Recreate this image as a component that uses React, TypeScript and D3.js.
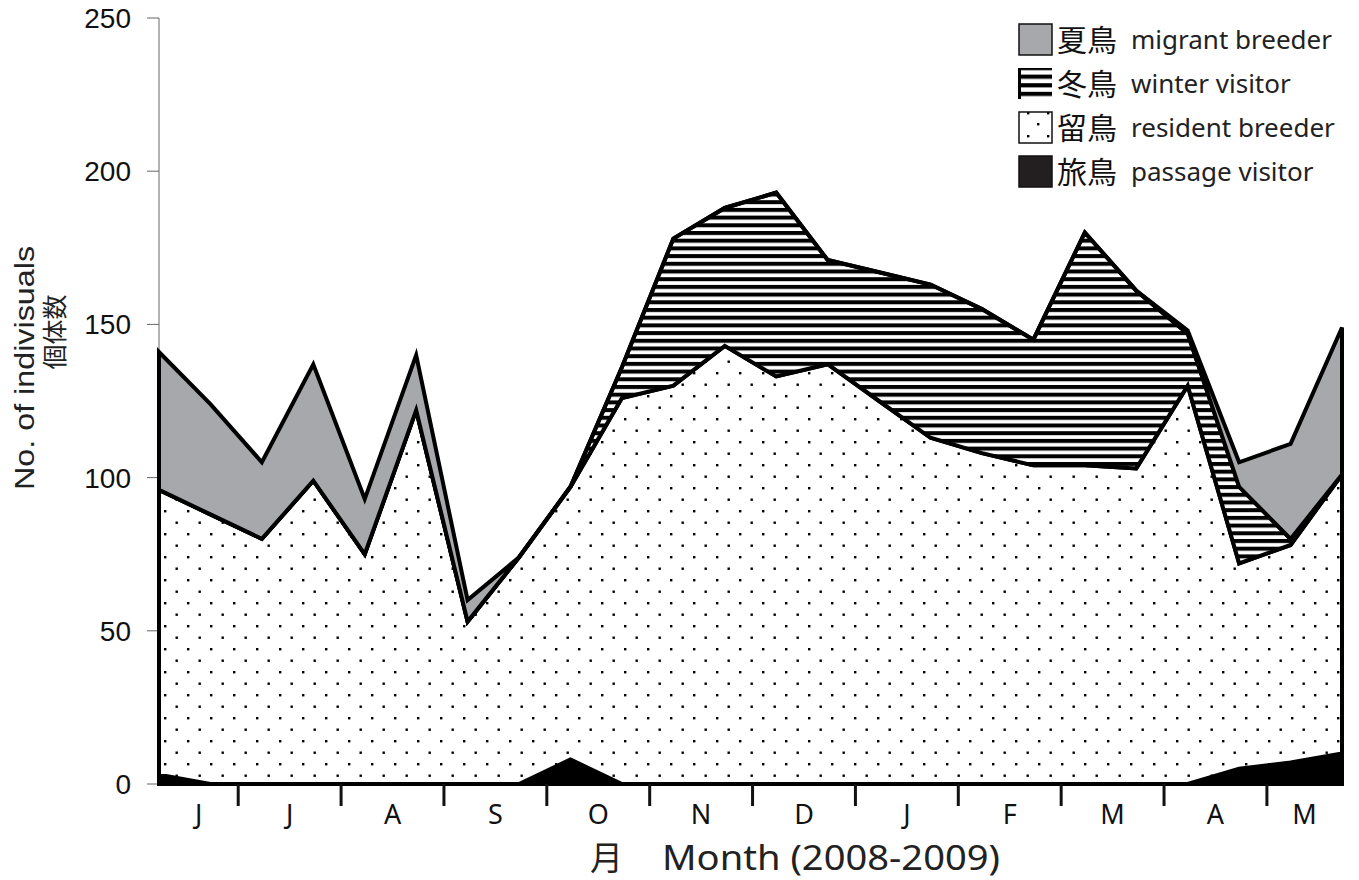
import React from "react";
import * as d3 from "d3";

// ---- data (survey visits, twice a month, Jun 2008 – May 2009) ----
const surveyIndex = [0, 1, 2, 3, 4, 5, 6, 7, 8, 9, 10, 11, 12, 13, 14, 15, 16, 17, 18, 19, 20, 21, 22, 23];
const passage = [3, 0, 0, 0, 0, 0, 0, 0, 8, 0, 0, 0, 0, 0, 0, 0, 0, 0, 0, 0, 0, 5, 7, 10];
const resident = [93, 88, 80, 99, 75, 122, 53, 74, 89, 126, 130, 143, 133, 137, 125, 113, 108, 104, 104, 103, 130, 67, 71, 91];
const winter = [0, 0, 0, 0, 0, 0, 0, 0, 0, 10, 48, 45, 60, 34, 42, 50, 47, 41, 76, 58, 17, 25, 2, 0];
const migrant = [45, 36, 25, 38, 18, 18, 7, 0, 0, 0, 0, 0, 0, 0, 0, 0, 0, 0, 0, 0, 1, 8, 31, 48];

const monthLabels = ["J", "J", "A", "S", "O", "N", "D", "J", "F", "M", "A", "M"];
// month boundaries expressed in survey-index units
const monthBoundaries = [1.54, 3.54, 5.54, 7.54, 9.54, 11.54, 13.54, 15.54, 17.54, 19.54, 21.54];
const yTicks = [0, 50, 100, 150, 200, 250];

const legendItems = [
  { jp: "夏鳥", en: "migrant breeder", fill: "#a7a8ab" },
  { jp: "冬鳥", en: "winter visitor", fill: "url(#stripesLegend)" },
  { jp: "留鳥", en: "resident breeder", fill: "url(#dotsLegend)" },
  { jp: "旅鳥", en: "passage visitor", fill: "#231f20" },
];

const keys = ["passage", "resident", "winter", "migrant"];
const fills: Record<string, string> = {
  passage: "#000000",
  resident: "url(#dots)",
  winter: "url(#stripes)",
  migrant: "#a7a8ab",
};

const W = 1359;
const H = 880;
const left = 159;
const right = 1342;
const top = 18;
const bottom = 784;

export default function App() {
  const x = d3.scaleLinear().domain([0, 23]).range([left, right]);
  const y = d3.scaleLinear().domain([0, 250]).range([bottom, top]);

  const rows = surveyIndex.map((i) => ({
    i,
    passage: passage[i],
    resident: resident[i],
    winter: winter[i],
    migrant: migrant[i],
  }));
  const series = d3.stack<any>().keys(keys)(rows);
  const area = d3
    .area<any>()
    .x((d) => x(d.data.i))
    .y0((d) => y(d[0]))
    .y1((d) => y(d[1]));

  const bounds = [0, ...monthBoundaries, 23];
  const labelPos = monthLabels.map((_, k) => (bounds[k] + bounds[k + 1]) / 2);

  const sans = "'Noto Sans', 'Noto Sans CJK JP', sans-serif";
  const cjk = "'Noto Sans CJK JP', 'Noto Sans', sans-serif";
  const arial = "'Liberation Sans', Arial, sans-serif";

  return (
    <svg width={W} height={H} style={{ position: "absolute", left: 0, top: 0, background: "#fff" }}>
      <defs>
        <pattern id="dots" width={23} height={23} patternUnits="userSpaceOnUse" x={3} y={4}>
          <rect width={23} height={23} fill="#fff" />
          <rect x={0} y={0} width={2.4} height={2.4} fill="#000" />
          <rect x={11.5} y={11.5} width={2.4} height={2.4} fill="#000" />
        </pattern>
        <pattern id="stripes" width={8} height={7.7} patternUnits="userSpaceOnUse">
          <rect width={8} height={7.7} fill="#fff" />
          <rect x={0} y={0} width={8} height={4} fill="#000" />
        </pattern>
        <pattern id="stripesLegend" width={10} height={8.6} patternUnits="userSpaceOnUse" y={66}>
          <rect width={10} height={8.6} fill="#fff" />
          <rect x={0} y={0} width={10} height={4.2} fill="#000" />
        </pattern>
        <pattern id="dotsLegend" width={34} height={34} patternUnits="userSpaceOnUse" x={1019} y={108}>
          <rect width={34} height={34} fill="#fff" />
          <rect x={8} y={4} width={2.4} height={2.4} fill="#000" />
          <rect x={18} y={15} width={2.4} height={2.4} fill="#000" />
          <rect x={8} y={27} width={2.4} height={2.4} fill="#000" />
          <rect x={28} y={27} width={2.4} height={2.4} fill="#000" />
          <rect x={28} y={4} width={2.4} height={2.4} fill="#000" />
        </pattern>
      </defs>

      {/* y axis */}
      <line x1={left} x2={left} y1={top} y2={bottom} stroke="#666" strokeWidth={1} />
      {yTicks.map((t) => (
        <g key={t}>
          <line x1={147} x2={left} y1={y(t)} y2={y(t)} stroke="#666" strokeWidth={1} />
          <text x={131} y={y(t)} dy="0.36em" textAnchor="end" fontFamily={arial} fontSize={28} fill="#111">
            {t}
          </text>
        </g>
      ))}

      {/* stacked areas */}
      {series.map((s) => (
        <path
          key={s.key}
          d={area(s) || ""}
          fill={fills[s.key]}
          stroke="#000"
          strokeWidth={4}
          strokeLinejoin="miter"
        />
      ))}

      {/* x axis month ticks */}
      {monthBoundaries.map((b) => (
        <line key={b} x1={x(b)} x2={x(b)} y1={bottom} y2={806} stroke="#111" strokeWidth={3} />
      ))}
      {monthLabels.map((m, k) => (
        <text key={k} x={x(labelPos[k])} y={824} textAnchor="middle" fontFamily={sans} fontSize={27} fill="#111">
          {m}
        </text>
      ))}

      {/* x axis title */}
      <text x={590} y={870} fontSize={33} fontFamily={cjk} fill="#222">
        月
      </text>
      <text x={662} y={870} fontSize={34} fontFamily={sans} fill="#222" textLength={338} lengthAdjust="spacingAndGlyphs">
        Month (2008-2009)
      </text>

      {/* y axis title */}
      <text
        transform="translate(34,368) rotate(-90)"
        textAnchor="middle"
        fontFamily={arial}
        fontSize={28}
        fill="#222"
        textLength={244}
        lengthAdjust="spacingAndGlyphs"
      >
        No. of indivisuals
      </text>
      <text transform="translate(64,332) rotate(-90)" textAnchor="middle" fontFamily={cjk} fontSize={25} fill="#222">
        個体数
      </text>

      {/* legend */}
      {legendItems.map((it, k) => {
        const yy = 24 + k * 44;
        return (
          <g key={it.jp}>
            <rect x={1019} y={yy} width={33} height={31} fill={it.fill} stroke={k === 1 ? "none" : "#111"} strokeWidth={1.5} />
            {k === 1 && <line x1={1019.5} x2={1019.5} y1={yy} y2={yy + 31} stroke="#000" strokeWidth={3} />}
            <text x={1057} y={yy + 27} fontFamily={cjk} fontSize={30} fill="#111">
              {it.jp}
            </text>
            <text x={1131} y={yy + 25} fontFamily={sans} fontSize={26} fill="#222">
              {it.en}
            </text>
          </g>
        );
      })}
    </svg>
  );
}
